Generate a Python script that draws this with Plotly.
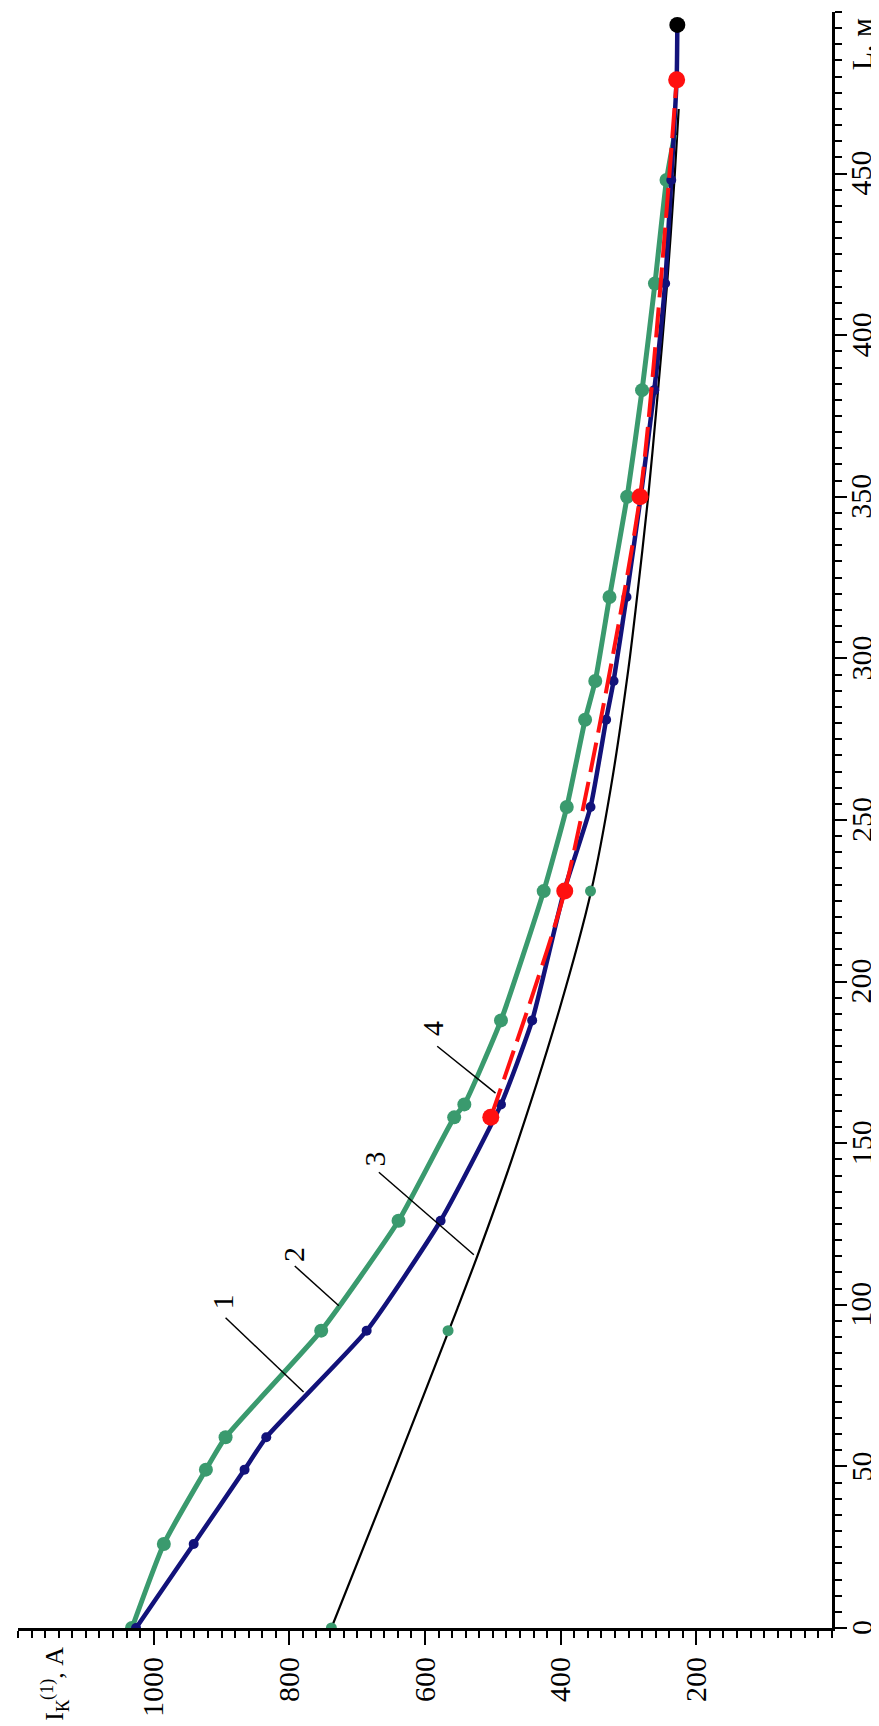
import plotly.graph_objects as go

# ---------------- data (L in m, I in A) ----------------
# Curve 1 (dark blue)
L1 = [0, 26, 49, 59, 92, 126, 162, 188, 228, 254, 281, 293, 319, 350, 383, 416, 448, 479, 496]
I1 = [1026, 941, 866, 834, 686, 577, 488, 442, 395, 356, 333, 322, 303, 282, 262, 246, 237, 229, 228]

# Curve 2 (green)
L2 = [0, 26, 49, 59, 92, 126, 158, 162, 188, 228, 254, 281, 293, 319, 350, 383, 416, 448, 462]
I2 = [1032, 985, 923, 894, 753, 639, 557, 542, 488, 425, 391, 364, 349, 328, 302, 280, 261, 244, 232]

# Curve 3 (black, calculated)
L3 = [0, 49, 99, 115, 145, 192, 228, 260, 297, 316, 350, 377, 416, 449, 470]
I3 = [738, 645, 552, 523, 472, 401, 355, 326, 300, 289, 271, 259, 243, 232, 226]
# green points on curve 3
L3p = [0, 92, 228]
I3p = [738, 566, 356]

# Curve 4 (red dashed)
L4 = [158, 228, 350, 479]
I4 = [503, 394, 283, 229]

# end point (black)
L_end = [496]
I_end = [228]

# curve labels
label_text = ["1", "2", "3", "4"]

# axis ticks
I_ticks = [200, 400, 600, 800, 1000]
I_ticktext = ["200", "400", "600", "800", "1000"]
L_ticks = [0, 50, 100, 150, 200, 250, 300, 350, 400, 450]
L_ticktext = ["0", "50", "100", "150", "200", "250", "300", "350", "400", "450"]

GREEN = "#3a9a6e"
BLUE = "#12127a"
RED = "#ff1010"
FONT = "Liberation Serif"

fig = go.Figure()

# curve 3
fig.add_trace(go.Scatter(x=I3, y=L3, mode="lines", line=dict(color="black", width=2.2, shape="spline", smoothing=0.8),
                         showlegend=False, hoverinfo="skip"))
# curve 2
fig.add_trace(go.Scatter(x=I2, y=L2, mode="lines", line=dict(color=GREEN, width=5, shape="spline", smoothing=0.5),
                         showlegend=False, hoverinfo="skip"))
fig.add_trace(go.Scatter(x=I2[:-1], y=L2[:-1], mode="markers", marker=dict(color=GREEN, size=14, symbol="circle"),
                         showlegend=False, hoverinfo="skip"))
# curve 1
fig.add_trace(go.Scatter(x=I1, y=L1, mode="lines+markers", line=dict(color=BLUE, width=4.5, shape="spline", smoothing=0.5),
                         marker=dict(color=BLUE, size=10), showlegend=False, hoverinfo="skip"))
# green points on curve 3
fig.add_trace(go.Scatter(x=I3p, y=L3p, mode="markers", marker=dict(color=GREEN, size=11),
                         showlegend=False, hoverinfo="skip"))
# curve 4
fig.add_trace(go.Scatter(x=I4, y=L4, mode="lines", line=dict(color=RED, width=4, dash="30px,10px", shape="spline", smoothing=0.6),
                         showlegend=False, hoverinfo="skip"))
fig.add_trace(go.Scatter(x=I4, y=L4, mode="markers", marker=dict(color=RED, size=17),
                         showlegend=False, hoverinfo="skip"))
# end point
fig.add_trace(go.Scatter(x=I_end, y=L_end, mode="markers", marker=dict(color="black", size=16),
                         showlegend=False, hoverinfo="skip"))

# labels with leader lines: (text pos I, L), (leader start I, L), (leader end I, L)
label_pos = [(898, 101), (794, 115.5), (675, 145), (589, 185.5)]
leader_start = [(894, 96), (792, 112), (668, 141), (582, 180)]
leader_end = [(779, 73), (727, 99.7), (528, 115.5), (496, 165.5)]

for t, p, s, e in zip(label_text, label_pos, leader_start, leader_end):
    fig.add_annotation(x=p[0], y=p[1], xref="x", yref="y", text=t, showarrow=False, textangle=-90,
                       xanchor="center", yanchor="middle",
                       font=dict(family=FONT, size=30, color="black"))
    fig.add_shape(type="line", xref="x", yref="y", x0=s[0], y0=s[1], x1=e[0], y1=e[1],
                  line=dict(color="black", width=1.5))

# L-axis tick labels (rotated, right of the axis)
for v, t in zip(L_ticks, L_ticktext):
    fig.add_annotation(x=1, xref="paper", xshift=29, y=v, yref="y", text=t, showarrow=False, textangle=-90,
                       xanchor="center", yanchor="middle",
                       font=dict(family=FONT, size=30, color="black"))

# axis titles
fig.add_annotation(x=1, xref="paper", xshift=29, y=490, yref="y", text="L, м", showarrow=False, textangle=-90,
                   xanchor="center", yanchor="middle",
                   font=dict(family=FONT, size=30, color="black"))
fig.add_annotation(x=1146, xref="x", y=-0.0347, yref="paper", text="I<sub>К</sub><sup>(1)</sup>, A", showarrow=False,
                   textangle=-90, xanchor="center", yanchor="middle",
                   font=dict(family=FONT, size=26, color="black"))

fig.update_layout(
    width=879, height=1726,
    margin=dict(l=10, r=55, t=4, b=106),
    paper_bgcolor="white", plot_bgcolor="white",
    xaxis=dict(range=[1200, 0], tickmode="array", tickvals=I_ticks, ticktext=I_ticktext, tickangle=-90,
               ticks="outside", ticklen=14, tickwidth=2, tickcolor="black",
               showline=True, linewidth=3, linecolor="black", showgrid=False, zeroline=False,
               minor=dict(tick0=0, dtick=20, ticks="outside", ticklen=7, tickwidth=1.5, tickcolor="black", showgrid=False),
               tickfont=dict(family=FONT, size=30, color="black")),
    yaxis=dict(range=[0, 500], side="right", tickmode="array", tickvals=L_ticks, showticklabels=False,
               ticks="outside", ticklen=12, tickwidth=2, tickcolor="black",
               showline=True, linewidth=3, linecolor="black", showgrid=False, zeroline=False,
               minor=dict(tick0=0, dtick=5, ticks="outside", ticklen=7, tickwidth=1.5, tickcolor="black", showgrid=False)),
)

fig.write_html("out.html")
